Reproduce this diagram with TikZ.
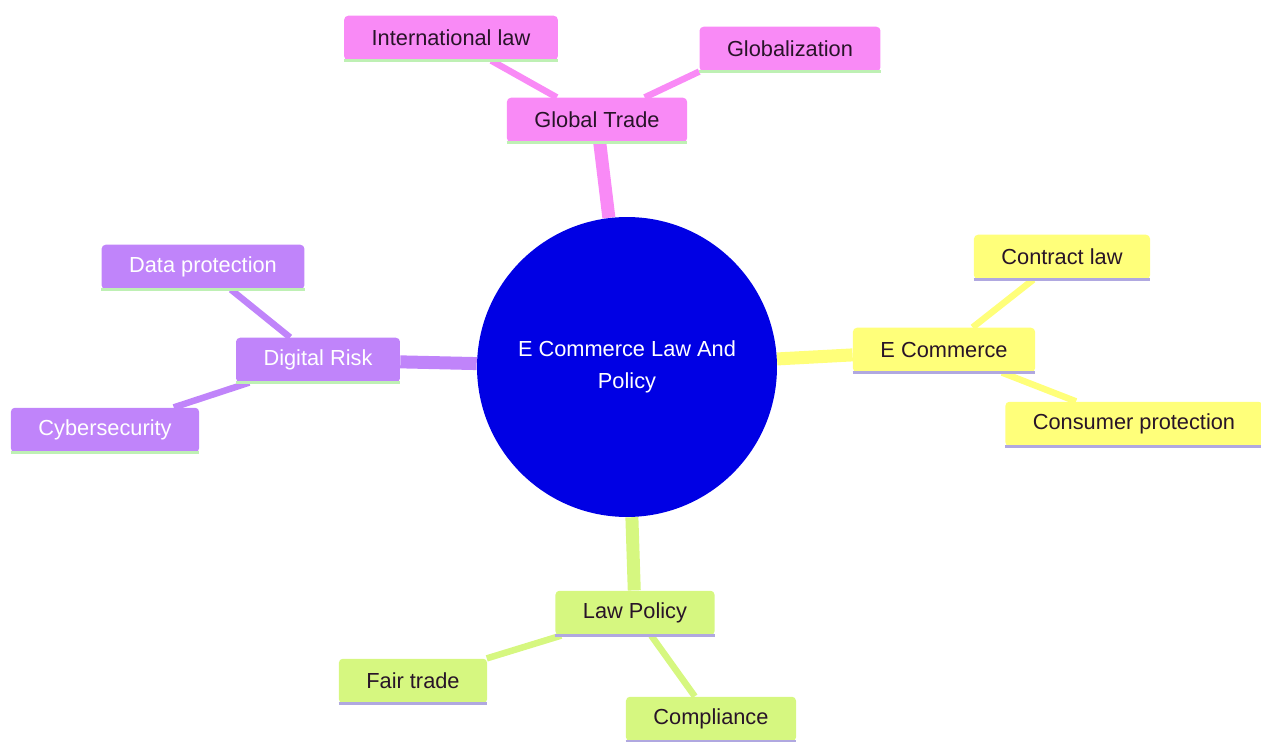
\documentclass[tikz,border=0pt]{standalone}
\usepackage{fontspec}
\setmainfont{Liberation Sans}
\usetikzlibrary{backgrounds}

\definecolor{bleu}{RGB}{0,0,228}
\definecolor{rose}{RGB}{249,138,246}
\definecolor{jaune}{RGB}{255,255,122}
\definecolor{violet}{RGB}{192,132,250}
\definecolor{vert}{RGB}{214,247,128}
\definecolor{textesombre}{RGB}{40,20,40}
\definecolor{soulvert}{RGB}{190,240,180}
\definecolor{soulmauve}{RGB}{176,168,224}

\begin{document}
\begin{tikzpicture}[x=0.02cm,y=-0.02cm]
\tikzset{bloc/.style={rounded corners=0.08cm, minimum height=0.89cm, inner xsep=0.55cm,
    font=\fontsize{12.4}{15}\selectfont},
  blocrose/.style={bloc, fill=rose, text=textesombre},
  blocjaune/.style={bloc, fill=jaune, text=textesombre},
  blocviolet/.style={bloc, fill=violet, text=white},
  blocvert/.style={bloc, fill=vert, text=textesombre},
  tronc/.style={line width=0.26cm},
  rameau/.style={line width=0.13cm}}
\useasboundingbox (0,0) rectangle (1261,742);
\node[circle, fill=bleu, minimum size=6cm, text=white, align=center,
  font=\fontsize{12.4}{18}\selectfont] (R) at (627,367) {E Commerce Law And\\Policy};
\node[blocrose] (GT) at (597,120) {Global Trade};
\node[blocrose] (IL) at (451,38) {International law};
\node[blocrose] (GL) at (790,49) {Globalization};
\node[blocjaune] (EC) at (944,350) {E Commerce};
\node[blocjaune] (CL) at (1062,257) {Contract law};
\node[blocjaune] (CP) at (1134,424) {Consumer protection};
\node[blocviolet] (DR) at (318,360) {Digital Risk};
\node[blocviolet] (DP) at (203,267) {Data protection};
\node[blocviolet] (CS) at (105,430) {Cybersecurity};
\node[blocvert] (LP) at (635,613) {Law Policy};
\node[blocvert] (FT) at (413,681) {Fair trade};
\node[blocvert] (CO) at (711,719) {Compliance};
\foreach \n/\c in {GT/soulvert, IL/soulvert, GL/soulvert, DR/soulvert, DP/soulvert,
  CS/soulvert, EC/soulmauve, CL/soulmauve, CP/soulmauve, LP/soulmauve, FT/soulmauve,
  CO/soulmauve}
  \draw[\c, line width=0.05cm] (\n.south west) -- (\n.south east);
\begin{scope}[on background layer]
\draw[tronc, rose] (R) -- (GT);
\draw[tronc, jaune] (R) -- (EC);
\draw[tronc, violet] (R) -- (DR);
\draw[tronc, vert] (R) -- (LP);
\draw[rameau, rose] (GT) -- (IL);
\draw[rameau, rose] (GT) -- (GL.south west);
\draw[rameau, jaune] (EC) -- (CL);
\draw[rameau, jaune] (EC) -- (CP);
\draw[rameau, violet] (DR) -- (DP);
\draw[rameau, violet] (DR) -- (CS);
\draw[rameau, vert] (LP) -- (FT);
\draw[rameau, vert] (LP) -- (CO);
\end{scope}
\end{tikzpicture}
\end{document}
